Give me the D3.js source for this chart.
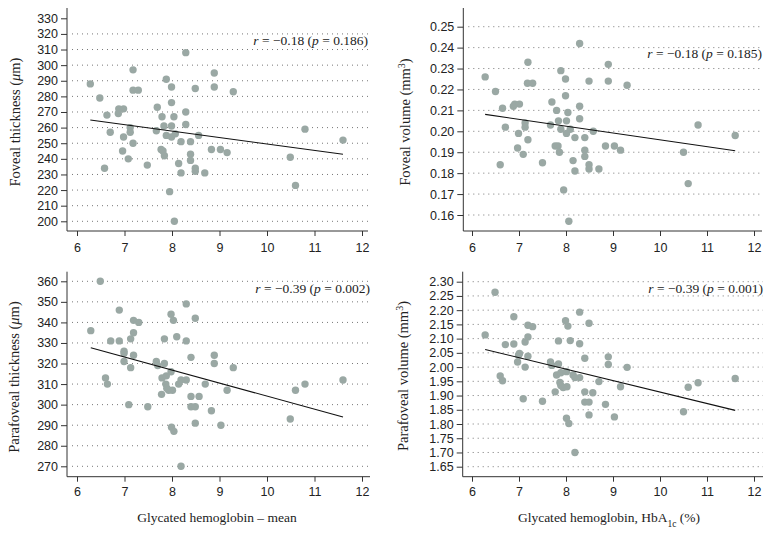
<!DOCTYPE html>
<meta charset="utf-8">
<style>
body { margin: 0; background: #fff; }
svg { font-family: "Liberation Serif", "DejaVu Serif", serif; }
.tick text { font-size: 12.5px; fill: #222; }
.tick line, .axisline { stroke: #333; stroke-width: 1px; }
.grid { stroke: #777; stroke-width: 1px; stroke-dasharray: 1,4; }
.dot { fill: #9aa8a4; }
.fit { stroke: #111; stroke-width: 1.1px; }
.title { font-size: 13.5px; fill: #222; }
.ytitle { font-size: 14.5px; fill: #222; }
.stat { font-size: 13.5px; fill: #222; }
</style>
<body>
<svg width="772" height="536"></svg>
<script src="https://cdn.jsdelivr.net/npm/d3@7"></script>
<script>

// foveal thickness (um) vs HbA1c
var ftX = [6.28,6.48,6.63,6.70,6.58,6.88,6.87,6.98,6.98,6.96,7.08,7.12,7.12,7.18,7.18,7.18,7.29,7.48,7.67,7.69,7.79,7.83,7.88,7.77,7.81,7.84,7.88,7.99,7.99,7.99,7.99,8.04,8.07,7.95,8.05,8.14,8.19,8.19,8.29,8.29,8.29,8.39,8.39,8.39,8.49,8.49,8.49,8.56,8.69,8.89,8.89,8.83,9.02,9.16,9.29,10.49,10.60,10.80,11.60];
var ftY = [288,279,268,257,234,272,269,272,254,245,240,260,257,250,297,284,284,236,258,273,267,261,255,246,245,242,291,286,276,261,254,267,256,219,200,237,251,231,308,270,262,251,243,239,285,234,232,255,231,295,286,246,246,244,283,241,223,259,252];

// foveal volume (mm3)
var fvX = [6.28,6.50,6.65,6.71,6.60,6.88,6.91,7.01,6.99,6.97,7.09,7.13,7.13,7.19,7.19,7.18,7.29,7.50,7.67,7.70,7.80,7.84,7.89,7.77,7.83,7.86,7.89,7.99,7.99,8.01,8.01,8.04,8.09,7.95,8.06,8.15,8.19,8.19,8.29,8.29,8.29,8.40,8.40,8.40,8.49,8.49,8.49,8.58,8.70,8.90,8.90,8.84,9.03,9.16,9.30,10.50,10.60,10.81,11.60];
var fvY = [0.226,0.219,0.211,0.202,0.184,0.212,0.213,0.213,0.199,0.192,0.189,0.204,0.202,0.196,0.233,0.223,0.223,0.185,0.203,0.214,0.210,0.205,0.201,0.193,0.193,0.190,0.229,0.225,0.217,0.205,0.199,0.209,0.201,0.172,0.157,0.186,0.197,0.181,0.242,0.212,0.206,0.197,0.191,0.188,0.224,0.184,0.182,0.200,0.182,0.232,0.224,0.193,0.193,0.191,0.222,0.190,0.175,0.203,0.198];

// parafoveal thickness (um)
var ptX = [6.29,6.49,6.60,6.64,6.71,6.89,6.89,6.99,6.99,6.99,7.09,7.13,7.13,7.19,7.19,7.30,7.19,7.49,7.67,7.70,7.84,7.79,7.78,7.84,7.88,7.87,7.89,7.93,7.98,7.98,8.03,7.99,8.04,8.01,8.10,8.14,8.19,8.19,8.30,8.30,8.30,8.40,8.40,8.40,8.49,8.49,8.49,8.57,8.70,8.89,8.89,8.83,9.03,9.16,9.29,10.49,10.60,10.80,11.60];
var ptY = [336,360,313,310,331,346,331,326,325,321,300,332,318,335,341,340,324,299,321,319,320,313,305,332,314,310,308,307,316,344,341,289,287,307,333,310,312,270,349,331,312,323,304,299,342,299,291,304,310,324,320,297,290,307,318,293,307,310,312];

// parafoveal volume (mm3)
var pvX = [6.28,6.49,6.60,6.65,6.71,6.89,6.89,7.01,6.99,6.97,7.09,7.13,7.13,7.19,7.19,7.29,7.19,7.50,7.67,7.70,7.84,7.80,7.77,7.84,7.89,7.87,7.89,7.94,8.01,7.99,8.04,8.01,8.06,8.02,8.09,8.15,8.19,8.19,8.29,8.29,8.29,8.40,8.40,8.40,8.49,8.49,8.49,8.57,8.70,8.90,8.90,8.84,9.03,9.16,9.30,10.50,10.60,10.81,11.60];
var pvY = [2.113,2.263,1.969,1.952,2.079,2.177,2.081,2.048,2.042,2.018,1.889,2.088,2.000,2.106,2.147,2.142,2.038,1.880,2.018,2.006,2.011,1.972,1.913,2.092,1.980,1.946,1.935,1.928,1.984,2.163,2.144,1.820,1.802,1.931,2.093,1.972,1.963,1.700,2.193,2.082,1.963,2.031,1.913,1.877,2.154,1.877,1.832,1.910,1.949,2.036,2.009,1.869,1.825,1.931,1.999,1.843,1.929,1.945,1.960];

// fitted lines (start, end)
var ftFit = [[6.28,264.9],[11.60,242.9]];
var fvFit = [[6.28,0.2081],[11.60,0.1907]];
var ptFit = [[6.29,327.7],[11.60,294.0]];
var pvFit = [[6.28,2.062],[11.60,1.848]];

var xTicks = [6,7,8,9,10,11,12];
var ftTicks = d3.range(200,331,10);
var fvTicks = [0.16,0.17,0.18,0.19,0.20,0.21,0.22,0.23,0.24,0.25];
var ptTicks = d3.range(270,361,10);
var pvTicks = [1.65,1.70,1.75,1.80,1.85,1.90,1.95,2.00,2.05,2.10,2.15,2.20,2.25,2.30];

var stats = [["-0.18","0.186"],["-0.18","0.185"],["-0.39","0.002"],["-0.39","0.001"]];

var svg = d3.select("svg");

var panels = [
  {xs: ftX, ys: ftY, fit: ftFit, ticks: ftTicks, grid: ftTicks.slice(0, -1), fmt: d3.format("d"), stat: stats[0],
   ax: 67, ay: 231, top: 8, right: 368, xr: [77,362], yr: [221.3,18.3], statY: 45, xlab: 251,
   title: ["Foveal thickness (", "μ", "m)"], tx: 20, ty: 122},
  {xs: fvX, ys: fvY, fit: fvFit, ticks: fvTicks, grid: fvTicks, fmt: d3.format(".2f"), stat: stats[1],
   ax: 463.3, ay: 231, top: 8, right: 762, xr: [472,754], yr: [215,26.7], statY: 58, xlab: 251,
   title: ["Foveal volume (mm", "3", ")"], tx: 410, ty: 122, sup: true},
  {xs: ptX, ys: ptY, fit: ptFit, ticks: ptTicks, grid: ptTicks, fmt: d3.format("d"), stat: stats[2],
   ax: 67, ay: 476.7, top: 271.7, right: 370, xr: [77,362], yr: [466.3,281.3], statY: 293, xlab: 495,
   title: ["Parafoveal thickness (", "μ", "m)"], tx: 19, ty: 377},
  {xs: pvX, ys: pvY, fit: pvFit, ticks: pvTicks, grid: pvTicks, fmt: d3.format(".2f"), stat: stats[3],
   ax: 462.7, ay: 476.7, top: 271.7, right: 763, xr: [472,754], yr: [466.7,281.7], statY: 293, xlab: 495,
   title: ["Parafoveal volume (mm", "3", ")"], tx: 408, ty: 376, sup: true}
];

var yDomains = [[200,330],[0.16,0.25],[270,360],[1.65,2.30]];

panels.forEach(function(p, i) {
  var x = d3.scaleLinear().domain([6,12]).range(p.xr);
  var y = d3.scaleLinear().domain(yDomains[i]).range(p.yr);
  var g = svg.append("g");

  // dotted grid
  g.selectAll(".grid").data(p.grid).enter().append("line")
    .attr("class", "grid")
    .attr("x1", p.ax + 5).attr("x2", p.right)
    .attr("y1", function(d) { return y(d); })
    .attr("y2", function(d) { return y(d); });

  var yAxis = g.append("g")
    .attr("transform", "translate(" + p.ax + ",0)")
    .call(d3.axisLeft(y).tickValues(p.ticks).tickFormat(p.fmt).tickSize(6).tickPadding(3));
  yAxis.select(".domain").remove();
  yAxis.selectAll(".tick text").attr("font-family", null).attr("font-size", null);

  var xAxis = g.append("g")
    .attr("transform", "translate(0," + p.ay + ")")
    .call(d3.axisBottom(x).tickValues(xTicks).tickFormat(d3.format("d")).tickSize(5).tickPadding(p.xlab - p.ay - 13));
  xAxis.select(".domain").remove();
  xAxis.selectAll(".tick text").attr("font-family", null).attr("font-size", null);

  g.append("line").attr("class", "axisline")
    .attr("x1", p.ax).attr("x2", p.ax).attr("y1", p.top).attr("y2", p.ay);
  g.append("line").attr("class", "axisline")
    .attr("x1", p.ax).attr("x2", p.right).attr("y1", p.ay).attr("y2", p.ay);

  g.selectAll(".dot").data(p.xs).enter().append("circle")
    .attr("class", "dot")
    .attr("r", 3.7)
    .attr("cx", function(d) { return x(d); })
    .attr("cy", function(d, j) { return y(p.ys[j]); });

  g.append("line").attr("class", "fit")
    .attr("x1", x(p.fit[0][0])).attr("y1", y(p.fit[0][1]))
    .attr("x2", x(p.fit[1][0])).attr("y2", y(p.fit[1][1]));

  var st = g.append("text").attr("class", "stat")
    .attr("x", p.right).attr("y", p.statY).attr("text-anchor", "end");
  st.append("tspan").attr("font-style", "italic").text("r");
  st.append("tspan").text(" = " + p.stat[0].replace("-", "\u2212") + " (");
  st.append("tspan").attr("font-style", "italic").text("p");
  st.append("tspan").text(" = " + p.stat[1] + ")");

  var t = g.append("text").attr("class", "ytitle")
    .attr("transform", "translate(" + p.tx + "," + p.ty + ") rotate(-90)")
    .attr("text-anchor", "middle");
  t.append("tspan").text(p.title[0]);
  if (p.sup) {
    t.append("tspan").attr("baseline-shift", "super").attr("font-size", "10px").text(p.title[1]);
  } else {
    t.append("tspan").attr("font-style", "italic").text(p.title[1]);
  }
  t.append("tspan").text(p.title[2]);
});

svg.append("text").attr("class", "title")
  .attr("x", 217).attr("y", 522).attr("text-anchor", "middle")
  .text("Glycated hemoglobin \u2013 mean");

var xt = svg.append("text").attr("class", "title")
  .attr("x", 609).attr("y", 522).attr("text-anchor", "middle");
xt.append("tspan").text("Glycated hemoglobin, HbA");
xt.append("tspan").attr("baseline-shift", "sub").attr("font-size", "9.5px").text("1c");
xt.append("tspan").text(" (%)");

</script>
</body>
